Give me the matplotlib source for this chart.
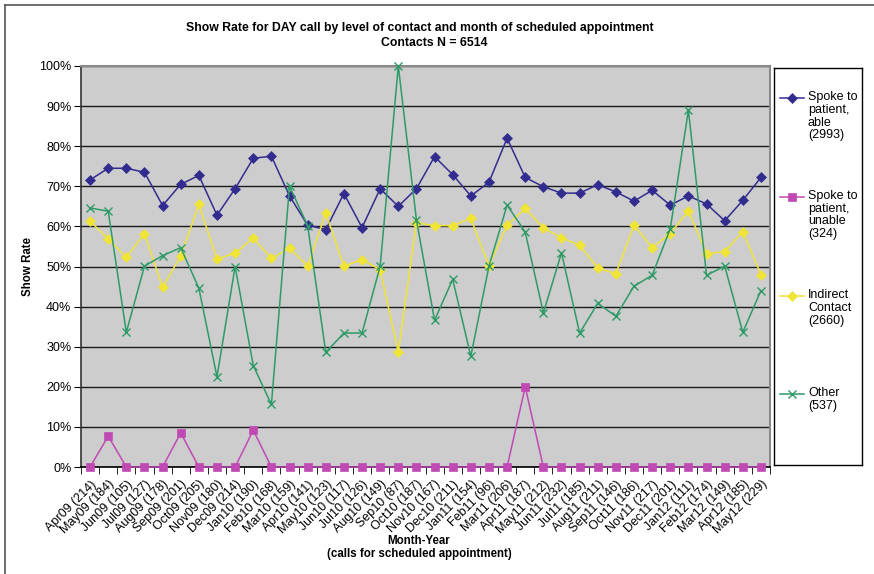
import matplotlib
matplotlib.use("Agg")
import matplotlib.pyplot as plt
from matplotlib.lines import Line2D
import numpy as np

plt.rcParams['font.family'] = ['Liberation Sans', 'DejaVu Sans']

months = ["Apr09 (214)", "May09 (184)", "Jun09 (105)", "Jul09 (127)", "Aug09 (178)",
          "Sep09 (201)", "Oct09 (205)", "Nov09 (180)", "Dec09 (214)", "Jan10 (190)",
          "Feb10 (168)", "Mar10 (159)", "Apr10 (141)", "May10 (123)", "Jun10 (117)",
          "Jul10 (126)", "Aug10 (149)", "Sep10 (87)", "Oct10 (187)", "Nov10 (167)",
          "Dec10 (211)", "Jan11 (154)", "Feb11 (96)", "Mar11 (206)", "Apr11 (187)",
          "May11 (212)", "Jun11 (232)", "Jul11 (185)", "Aug11 (211)", "Sep11 (146)",
          "Oct11 (186)", "Nov11 (217)", "Dec11 (201)", "Jan12 (111)", "Feb12 (174)",
          "Mar12 (149)", "Apr12 (185)", "May12 (229)"]

# show rate in percent
spoke_able = [71.6, 74.5, 74.5, 73.5, 65.2, 70.5, 72.7, 62.8, 69.4, 77.0,
              77.5, 67.6, 60.3, 59.2, 68.2, 59.7, 69.4, 65.0, 69.4, 77.4,
              72.9, 67.6, 71.0, 82.0, 72.2, 69.9, 68.3, 68.3, 70.4, 68.6,
              66.3, 69.0, 65.3, 67.6, 65.6, 61.4, 66.5, 72.2]
spoke_unable = [0, 7.7, 0, 0, 0, 8.5, 0, 0, 0, 9.2,
                0, 0, 0, 0, 0, 0, 0, 0, 0, 0,
                0, 0, 0, 0, 20.0, 0, 0, 0, 0, 0,
                0, 0, 0, 0, 0, 0, 0, 0]
indirect = [61.3, 56.9, 52.3, 58.2, 44.8, 52.6, 65.5, 51.9, 53.3, 57.1,
            52.0, 54.6, 50.1, 63.3, 50.1, 51.7, 49.2, 28.6, 60.9, 60.2,
            60.2, 62.0, 50.1, 60.3, 64.5, 59.6, 57.2, 55.3, 49.6, 48.2,
            60.3, 54.7, 58.2, 63.9, 53.2, 53.7, 58.7, 48.0]
other = [64.6, 63.8, 33.6, 50.1, 52.7, 54.7, 44.6, 22.5, 50.0, 25.3,
         15.6, 70.0, 60.2, 28.6, 33.4, 33.4, 50.1, 100.0, 61.6, 36.6,
         46.8, 27.6, 50.1, 65.3, 58.6, 38.4, 53.4, 33.4, 40.8, 37.6,
         45.1, 47.8, 59.4, 89.0, 47.8, 50.1, 33.6, 44.0]

series_labels = ["Spoke to\npatient,\nable\n(2993)", "Spoke to\npatient,\nunable\n(324)",
                 "Indirect\nContact\n(2660)", "Other\n(537)"]
colors = ["#332C8F", "#C04AB4", "#F0E436", "#2E9A67"]
markers = ["D", "s", "D", "x"]
msizes = [5, 6, 5, 6]

W, H = 874, 574
fig = plt.figure(figsize=(W / 100, H / 100), dpi=100)
ax = fig.add_axes([81 / W, 1 - 467 / H, (770 - 81) / W, (467 - 66) / H])
ax.set_facecolor("#CDCDCD")

x = np.arange(len(months))
all_series = [spoke_able, spoke_unable, indirect, other]
for vals, c, m, ms in zip(all_series, colors, markers, msizes):
    ax.plot(x, vals, color=c, marker=m, markersize=ms, linewidth=1.1,
            markeredgewidth=1.0 if m == "x" else 0.5, clip_on=False, zorder=3)

ax.set_xlim(-0.5, len(months) - 0.5)
ax.set_ylim(0, 100)
ax.set_yticks(np.arange(0, 101, 10))
ax.set_yticklabels(["{:d}%".format(v) for v in range(0, 101, 10)], fontsize=9)
ax.grid(axis="y", color="#1a1a1a", linewidth=1.0, zorder=1)
ax.set_axisbelow(True)

ax.set_xticks(x)
ax.set_xticklabels(months, rotation=45, ha="right", rotation_mode="anchor", fontsize=9)
ax.set_xticks(np.arange(-0.5, len(months), 1), minor=True)
ax.tick_params(axis="x", which="major", length=0, pad=8)
ax.tick_params(axis="x", which="minor", length=5, direction="out", color="black")
ax.tick_params(axis="y", length=5, direction="out", color="black", pad=2)

for s in ["top", "right"]:
    ax.spines[s].set_color("#8a8a8a")
    ax.spines[s].set_linewidth(1.5)
ax.spines["left"].set_color("#333333")
ax.spines["bottom"].set_color("black")
ax.spines["left"].set_linewidth(1.2)
ax.spines["bottom"].set_linewidth(1.2)

ax.set_ylabel("Show Rate", fontsize=8.3, fontweight="bold")
ax.yaxis.set_label_coords((34 - 81) / (770 - 81), 0.5)

fig.text(420 / W, 1 - 28.3 / H, "Show Rate for DAY call by level of contact and month of scheduled appointment",
         ha="center", va="center", fontsize=8.8, fontweight="bold")
fig.text(434 / W, 1 - 43.3 / H, "Contacts N = 6514", ha="center", va="center",
         fontsize=8.8, fontweight="bold")
fig.text(419 / W, 1 - 540.7 / H, "Month-Year", ha="center", va="center",
         fontsize=8.3, fontweight="bold")
fig.text(419 / W, 1 - 554.3 / H, "(calls for scheduled appointment)", ha="center", va="center",
         fontsize=8.3, fontweight="bold")

# legend box
lg = fig.add_axes([774 / W, 1 - 465 / H, 88 / W, (465 - 68) / H])
lg.set_xlim(0, 1)
lg.set_ylim(0, 1)
lg.set_xticks([])
lg.set_yticks([])
for s in lg.spines.values():
    s.set_color("black")
    s.set_linewidth(1.0)
entry_y = [0.925, 0.676, 0.426, 0.179]
for lab, c, m, ms, ey in zip(series_labels, colors, markers, msizes, entry_y):
    lg.plot([0.068, 0.341], [ey, ey], color=c, linewidth=1.1)
    lg.plot([0.205], [ey], color=c, marker=m, markersize=ms,
            markeredgewidth=1.0 if m == "x" else 0.5)
    lg.text(0.386, ey + 0.0176, lab, ha="left", va="top", fontsize=9, linespacing=1.1)

# outer frame (left and top edges)
fig.add_artist(Line2D([4.5 / W, 4.5 / W], [0, 1 - 5 / H], color="#555555", linewidth=1.2))
fig.add_artist(Line2D([4.5 / W, 1], [1 - 5 / H, 1 - 5 / H], color="#555555", linewidth=1.2))

fig.savefig("out.png", dpi=100)
